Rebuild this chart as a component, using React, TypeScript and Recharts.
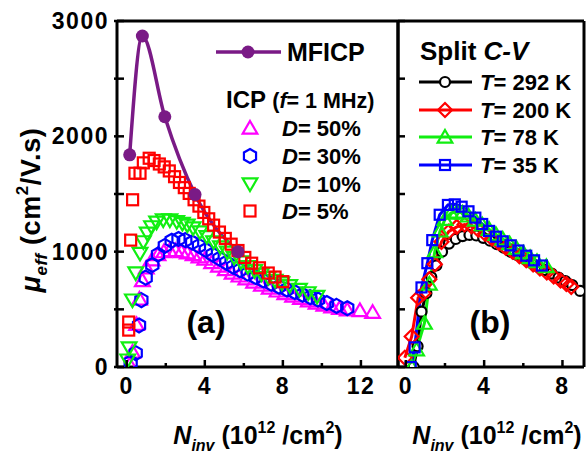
import { ComposedChart, LineChart, Line, Scatter, XAxis, YAxis, ReferenceLine, Legend } from 'recharts';

const FONT = "'Liberation Sans', Arial, Helvetica, sans-serif";

// ---- panel (a): MFICP and ICP pulsed measurements ----
const mficpN = [0.15, 0.8, 1.95, 3.5, 5.7];
const mficpMu = [1840, 2870, 2170, 1495, 1000];

const d50N = [0.15, 0.3, 0.5, 0.65, 0.8, 1.0, 1.3, 1.6, 1.9, 2.2, 2.5, 2.8, 3.1, 3.4, 3.7, 4.0, 4.35, 4.7, 5.05, 5.4, 5.75, 6.1, 6.5, 6.9, 7.3, 7.7, 8.1, 8.5, 8.9, 9.3, 9.7, 10.1, 10.5, 10.9, 11.3, 11.95, 12.6];
const d50Mu = [20, 130, 370, 590, 750, 860, 930, 975, 1000, 1010, 1010, 1000, 990, 975, 955, 935, 905, 875, 845, 815, 790, 765, 737, 710, 685, 660, 637, 615, 595, 575, 555, 538, 522, 508, 496, 490, 475];

const d30N = [0.2, 0.46, 0.63, 0.75, 0.97, 1.31, 1.6, 1.95, 2.3, 2.65, 3.0, 3.35, 3.7, 4.05, 4.4, 4.75, 5.1, 5.45, 5.8, 6.2, 6.6, 7.0, 7.4, 7.8, 8.2, 8.6, 9.0, 9.4, 9.8, 10.25, 10.75, 11.3];
const d30Mu = [40, 120, 360, 580, 775, 885, 975, 1050, 1095, 1110, 1100, 1080, 1050, 1015, 975, 940, 905, 870, 840, 810, 780, 750, 722, 697, 672, 650, 627, 606, 585, 555, 530, 510];

const d10N = [0.05, 0.12, 0.29, 0.46, 0.68, 0.85, 1.05, 1.27, 1.53, 1.87, 2.21, 2.56, 2.85, 3.1, 3.4, 3.75, 4.1, 4.45, 4.8, 5.15, 5.5, 5.85, 6.2, 6.55, 6.9, 7.25, 7.6, 7.95, 8.35, 8.85, 9.3, 9.75];
const d10Mu = [60, 165, 580, 815, 985, 1085, 1160, 1215, 1255, 1275, 1275, 1260, 1245, 1230, 1205, 1170, 1130, 1085, 1040, 995, 950, 910, 870, 835, 805, 775, 750, 728, 705, 672, 643, 612];

const d5N = [0.1, 0.1, 0.2, 0.3, 0.42, 0.68, 0.85, 1.15, 1.4, 1.67, 1.92, 2.18, 2.45, 2.7, 2.95, 3.2, 3.45, 3.7, 3.95, 4.2, 4.45, 4.75, 5.05, 5.35, 5.7, 6.05, 6.4, 6.8, 7.25, 7.6, 8.0];
const d5Mu = [320, 390, 1100, 1450, 1680, 1680, 1770, 1810, 1790, 1760, 1735, 1700, 1650, 1600, 1555, 1505, 1450, 1395, 1340, 1285, 1230, 1170, 1115, 1065, 1010, 950, 900, 860, 815, 780, 740];

const dutyLabels = ['50%', '30%', '10%', '5%'];

// ---- panel (b): split C-V at several temperatures ----
const t292N = [0.4, 0.6, 0.8, 1.05, 1.3, 1.56, 1.85, 2.2, 2.55, 2.9, 3.25, 3.6, 3.95, 4.3, 4.65, 5.0, 5.35, 5.7, 6.05, 6.4, 6.75, 7.1, 7.45, 7.8, 8.15, 8.5, 8.9];
const t292Mu = [0, 180, 480, 640, 780, 880, 1000, 1070, 1110, 1135, 1145, 1140, 1120, 1095, 1065, 1035, 1000, 970, 940, 905, 870, 840, 810, 775, 745, 710, 660];

const t200N = [-0.05, 0.3, 0.63, 0.9, 1.2, 1.48, 1.82, 2.2, 2.6, 3.0, 3.35, 3.7, 4.05, 4.4, 4.75, 5.1, 5.45, 5.8, 6.15, 6.5, 6.85, 7.2, 7.55, 7.9, 8.2, 8.45];
const t200Mu = [80, 265, 600, 640, 760, 890, 1085, 1175, 1215, 1235, 1220, 1190, 1155, 1115, 1075, 1035, 1000, 960, 925, 890, 855, 820, 785, 750, 720, 695];

const t78N = [0.3, 0.55, 0.95, 1.2, 1.48, 1.75, 2.0, 2.3, 2.6, 2.9, 3.2, 3.55, 3.9, 4.25, 4.6, 4.95, 5.3, 5.65, 6.0, 6.35, 6.7, 7.18];
const t78Mu = [0, 150, 380, 720, 1000, 1180, 1280, 1335, 1345, 1335, 1310, 1275, 1235, 1195, 1150, 1110, 1070, 1030, 990, 950, 915, 872];

const t35N = [0.25, 0.45, 0.8, 1.1, 1.35, 1.73, 2.15, 2.5, 2.85, 3.2, 3.55, 3.9, 4.25, 4.6, 4.95, 5.35, 5.75, 6.15, 6.55, 6.95];
const t35Mu = [0, 170, 690, 900, 1100, 1320, 1405, 1410, 1390, 1350, 1295, 1240, 1180, 1130, 1090, 1055, 1010, 965, 925, 880];

const tempLabels = ['292 K', '200 K', '78 K', '35 K'];

const yTicks = [0, 500, 1000, 1500, 2000, 2500, 3000];
const xTicksA = [0, 2, 4, 6, 8, 10, 12];
const xTicksB = [0, 2, 4, 6, 8];

const pts = (xs: number[], ys: number[]) => xs.map((x, i) => ({ x, y: ys[i] }));

const PURPLE = '#7a1a86';
const MAGENTA = '#ff00ff';
const BLUE = '#0000ff';
const GREEN = '#11ee11';
const RED = '#ff0000';
const SW = 2.2;

// ---- marker shapes ----
const triUp = (cx: number, cy: number, r: number, c: string) => (
  <polygon points={`${cx},${cy - r} ${cx + r * 1.05},${cy + r * 0.8} ${cx - r * 1.05},${cy + r * 0.8}`} fill="none" stroke={c} strokeWidth={SW} />
);
const triDown = (cx: number, cy: number, r: number, c: string) => (
  <polygon points={`${cx},${cy + r} ${cx + r * 1.05},${cy - r * 0.8} ${cx - r * 1.05},${cy - r * 0.8}`} fill="none" stroke={c} strokeWidth={SW} />
);
const hexagon = (cx: number, cy: number, r: number, c: string) => {
  const p = [0, 1, 2, 3, 4, 5].map((k) => {
    const a = (Math.PI / 3) * k - Math.PI / 2;
    return `${cx + r * Math.cos(a)},${cy + r * Math.sin(a)}`;
  });
  return <polygon points={p.join(' ')} fill="none" stroke={c} strokeWidth={SW} />;
};
const square = (cx: number, cy: number, h: number, c: string, fill = 'none') => (
  <rect x={cx - h} y={cy - h} width={h * 2} height={h * 2} fill={fill} stroke={c} strokeWidth={SW} />
);
const diamond = (cx: number, cy: number, r: number, c: string) => (
  <polygon points={`${cx},${cy - r} ${cx + r},${cy} ${cx},${cy + r} ${cx - r},${cy}`} fill="none" stroke={c} strokeWidth={SW} />
);
const circle = (cx: number, cy: number, r: number, c: string, fill = 'none') => (
  <circle cx={cx} cy={cy} r={r} fill={fill} stroke={c} strokeWidth={SW} />
);

// ---- ticks ----
const BottomTick = (props: any) => {
  const { x, y, payload } = props;
  const major = payload.value % 4 === 0;
  return (
    <g>
      <line x1={x} x2={x} y1={y} y2={y - (major ? 7 : 4)} stroke="#000" strokeWidth={2.5} />
      {major && (
        <text x={x} y={y + 27} textAnchor="middle" fontSize={23} fontWeight="bold" fontFamily={FONT} letterSpacing={1.5} fill="#000">
          {payload.value}
        </text>
      )}
    </g>
  );
};

const LeftTick = (props: any) => {
  const { x, y, payload } = props;
  const major = payload.value % 1000 === 0;
  return (
    <g>
      <line x1={x - 3} x2={x + 7} y1={y} y2={y} stroke="#000" strokeWidth={2.5} />
      {major && (
        <text x={x - 8} y={y + 8} textAnchor="end" fontSize={23} fontWeight="bold" fontFamily={FONT} letterSpacing={1.5} fill="#000">
          {payload.value}
        </text>
      )}
    </g>
  );
};

const InnerLeftTick = (props: any) => (
  <line x1={props.x} x2={props.x + 7} y1={props.y} y2={props.y} stroke="#000" strokeWidth={2.5} />
);
const InnerRightTick = (props: any) => (
  <line x1={props.x - 7} x2={props.x} y1={props.y} y2={props.y} stroke="#000" strokeWidth={2.5} />
);

const XTitle = ({ cx }: { cx: number }) => (
  <text x={cx} y={444} textAnchor="middle" fontSize={25}>
    <tspan fontStyle="italic">N</tspan>
    <tspan fontStyle="italic" fontSize={16} dy={7}>inv</tspan>
    <tspan dy={-7}> (10</tspan>
    <tspan fontSize={16} dy={-11}>12</tspan>
    <tspan dy={11}> /cm</tspan>
    <tspan fontSize={16} dy={-11}>2</tspan>
    <tspan dy={11}>)</tspan>
  </text>
);

const dutyMarkers = [
  (cx: number, cy: number) => triUp(cx, cy, 7, MAGENTA),
  (cx: number, cy: number) => hexagon(cx, cy, 7, BLUE),
  (cx: number, cy: number) => triDown(cx, cy, 7, GREEN),
  (cx: number, cy: number) => square(cx, cy, 5.5, RED),
];
const tempMarkers = [
  (cx: number, cy: number) => circle(cx, cy, 5, '#000', '#fff'),
  (cx: number, cy: number) => diamond(cx, cy, 7, RED),
  (cx: number, cy: number) => triUp(cx, cy, 7, GREEN),
  (cx: number, cy: number) => square(cx, cy, 5, BLUE),
];
const tempColors = ['#000', RED, GREEN, BLUE];

const LeftOverlay = () => (
  <svg width={400} height={457} fontFamily={FONT} fontWeight="bold" fill="#000" style={{ display: 'block' }}>
    <text transform="translate(40,210) rotate(-90)" textAnchor="middle" fontSize={27} letterSpacing={0.6}>
      <tspan fontStyle="italic">μ</tspan>
      <tspan fontStyle="italic" fontSize={17} dy={7}>eff</tspan>
      <tspan dy={-7}> (cm</tspan>
      <tspan fontSize={17} dy={-12}>2</tspan>
      <tspan dy={12}>/V.s)</tspan>
    </text>
    <XTitle cx={258} />
    <line x1={216} x2={281} y1={52} y2={52} stroke={PURPLE} strokeWidth={3.5} />
    <circle cx={248} cy={52} r={6.5} fill={PURPLE} />
    <text x={287} y={61} fontSize={25}>MFICP</text>
    <text x={226} y={108} fontSize={24}>
      ICP <tspan fontSize={21.5}>(</tspan>
      <tspan fontSize={21.5} fontStyle="italic">f</tspan>
      <tspan fontSize={21.5}>= 1 MHz)</tspan>
    </text>
    {dutyLabels.map((lab, i) => {
      const cy = [128, 156, 184, 211][i];
      return (
        <g key={lab}>
          {dutyMarkers[i](250, cy)}
          <text x={282} y={cy + 8} fontSize={22}>
            <tspan fontStyle="italic">D</tspan>= {lab}
          </text>
        </g>
      );
    })}
    <text x={206} y={333} textAnchor="middle" fontSize={32}>(a)</text>
  </svg>
);

const RightOverlay = () => (
  <svg width={586} height={457} fontFamily={FONT} fontWeight="bold" fill="#000" style={{ display: 'block' }}>
    <XTitle cx={497} />
    <text x={420} y={60} fontSize={26}>
      Split <tspan fontStyle="italic">C-V</tspan>
    </text>
    {tempLabels.map((lab, i) => {
      const cy = [82, 110, 137, 165][i];
      return (
        <g key={lab}>
          <line x1={419} x2={472} y1={cy} y2={cy} stroke={tempColors[i]} strokeWidth={3} />
          {tempMarkers[i](445, cy)}
          <text x={480} y={cy + 8} fontSize={22}>
            <tspan fontStyle="italic">T</tspan>= {lab}
          </text>
        </g>
      );
    })}
    <text x={490} y={333} textAnchor="middle" fontSize={32}>(b)</text>
  </svg>
);

const axisLine = { stroke: '#000', strokeWidth: 3 };

const PanelA = () => (
  <ComposedChart width={400} height={457} margin={{ top: 21, right: 0, bottom: 0, left: 0 }}>
    <XAxis type="number" dataKey="x" domain={[-0.5, 13.9]} ticks={xTicksA} interval={0} allowDataOverflow
      height={90} axisLine={axisLine} tickLine={false} tickSize={0} tickMargin={0} tick={<BottomTick />} />
    <YAxis type="number" dataKey="y" domain={[0, 3000]} ticks={yTicks} interval={0} allowDataOverflow
      width={117} axisLine={axisLine} tickLine={false} tickSize={0} tickMargin={0} tick={<LeftTick />} />
    <YAxis yAxisId="r" orientation="right" type="number" domain={[0, 3000]} ticks={yTicks} interval={0}
      width={2} axisLine={axisLine} tickLine={false} tickSize={0} tickMargin={0} tick={<InnerRightTick />} />
    <ReferenceLine y={3000} stroke="#000" strokeWidth={3} />
    <Scatter data={pts(d50N, d50Mu)} isAnimationActive={false} shape={(p: any) => triUp(p.cx, p.cy, 7, MAGENTA)} />
    <Scatter data={pts(d30N, d30Mu)} isAnimationActive={false} shape={(p: any) => hexagon(p.cx, p.cy, 7, BLUE)} />
    <Scatter data={pts(d10N, d10Mu)} isAnimationActive={false} shape={(p: any) => triDown(p.cx, p.cy, 7, GREEN)} />
    <Scatter data={pts(d5N, d5Mu)} isAnimationActive={false} shape={(p: any) => square(p.cx, p.cy, 5.5, RED)} />
    <Line data={pts(mficpN, mficpMu)} dataKey="y" type="monotone" stroke={PURPLE} strokeWidth={3.5}
      dot={{ r: 6.5, fill: PURPLE, stroke: PURPLE, strokeWidth: 0 }} isAnimationActive={false} />
    <Legend layout="vertical" align="center" verticalAlign="middle" content={() => <LeftOverlay />}
      wrapperStyle={{ left: 0, top: 0, width: 400, height: 457, pointerEvents: 'none' }} />
  </ComposedChart>
);

const tempSeries = [
  { n: t292N, mu: t292Mu },
  { n: t200N, mu: t200Mu },
  { n: t78N, mu: t78Mu },
  { n: t35N, mu: t35Mu },
];

const PanelB = () => (
  <LineChart width={586} height={457} margin={{ top: 21, right: 0, bottom: 0, left: 0 }}>
    <XAxis type="number" dataKey="x" domain={[-0.4, 9.1]} ticks={xTicksB} interval={0} allowDataOverflow
      height={90} axisLine={axisLine} tickLine={false} tickSize={0} tickMargin={0} tick={<BottomTick />} />
    <YAxis type="number" dataKey="y" domain={[0, 3000]} ticks={yTicks} interval={0} allowDataOverflow
      width={398} axisLine={axisLine} tickLine={false} tickSize={0} tickMargin={0} tick={<InnerLeftTick />} />
    <YAxis yAxisId="r" orientation="right" type="number" domain={[0, 3000]} ticks={yTicks} interval={0}
      width={2} axisLine={axisLine} tickLine={false} tickSize={0} tickMargin={0} tick={<InnerRightTick />} />
    <ReferenceLine y={3000} stroke="#000" strokeWidth={3} />
    {tempSeries.map((s, i) => (
      <Line key={tempLabels[i]} data={pts(s.n, s.mu)} dataKey="y" type="linear" stroke={tempColors[i]} strokeWidth={3}
        isAnimationActive={false}
        dot={(p: any) => <g key={`d${i}-${p.index}`}>{tempMarkers[i](p.cx, p.cy)}</g>} />
    ))}
    <Legend layout="vertical" align="center" verticalAlign="middle" content={() => <RightOverlay />}
      wrapperStyle={{ left: 0, top: 0, width: 586, height: 457, pointerEvents: 'none' }} />
  </LineChart>
);

export default function App() {
  return (
    <div style={{ position: 'absolute', left: 0, top: 0, width: 586, height: 457, background: '#fff', overflow: 'hidden' }}>
      <div style={{ position: 'absolute', left: 0, top: 0 }}>
        <PanelA />
      </div>
      <div style={{ position: 'absolute', left: 0, top: 0 }}>
        <PanelB />
      </div>
    </div>
  );
}
